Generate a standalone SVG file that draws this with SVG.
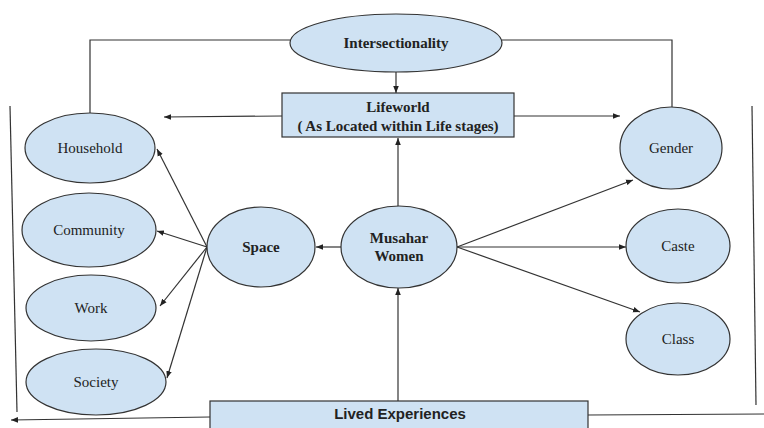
<svg xmlns="http://www.w3.org/2000/svg" width="764" height="428" viewBox="0 0 764 428">
<defs>
<marker id="ah" viewBox="0 0 10 10" refX="10" refY="5" markerWidth="7" markerHeight="7" markerUnits="userSpaceOnUse" orient="auto">
<path d="M0,1 L10,5 L0,9 Z" fill="#222"/>
</marker>
<style>
.n{fill:#cfe2f3;stroke:#333;stroke-width:1.2}
.c{fill:none;stroke:#333;stroke-width:1.2}
.a{fill:none;stroke:#333;stroke-width:1.2;marker-end:url(#ah)}
.t{font-family:"Liberation Serif","Times New Roman",serif;font-size:15px;fill:#222;text-anchor:middle}
.b{font-weight:bold}
.s{font-family:"Liberation Sans",Arial,sans-serif;font-size:15px;font-weight:bold;fill:#222;text-anchor:middle}
</style>
</defs>
<rect width="764" height="428" fill="#fff"/>
<g id="connectors">
<polyline class="c" points="290,40 90,40 90,114"/>
<polyline class="c" points="502,40 672,40 672,107"/>
<line class="a" x1="396" y1="72" x2="396" y2="93"/>
<line class="a" x1="282" y1="116" x2="164" y2="117"/>
<line class="a" x1="514" y1="116" x2="620" y2="116"/>
<line class="a" x1="398" y1="207" x2="398" y2="138"/>
<line class="a" x1="398" y1="401" x2="398" y2="288"/>
<line class="a" x1="341" y1="247" x2="316" y2="247"/>
<line class="a" x1="207" y1="247" x2="157" y2="149"/>
<line class="a" x1="207" y1="247" x2="157" y2="231"/>
<line class="a" x1="207" y1="247" x2="160" y2="306"/>
<line class="a" x1="207" y1="247" x2="167" y2="378"/>
<line class="a" x1="457" y1="247" x2="633" y2="180"/>
<line class="a" x1="457" y1="247" x2="626" y2="247"/>
<line class="a" x1="457" y1="247" x2="640" y2="312"/>
<line class="c" x1="10" y1="106" x2="17" y2="412"/>
<line class="c" x1="752" y1="106" x2="756" y2="405"/>
<line class="a" x1="210" y1="417" x2="11" y2="420"/>
<line class="c" x1="588" y1="415" x2="764" y2="414"/>
</g>
<g id="intersectionality">
<ellipse class="n" cx="396" cy="43" rx="106" ry="29"/>
<text class="t b" x="396" y="48">Intersectionality</text>
</g>
<g id="lifeworld">
<rect class="n" x="282" y="93" width="232" height="44"/>
<text class="t b" x="398" y="112">Lifeworld</text>
<text class="t b" x="398" y="131">( As Located within Life stages)</text>
</g>
<g id="household">
<ellipse class="n" cx="90" cy="148" rx="65" ry="35"/>
<text class="t" x="90" y="153">Household</text>
</g>
<g id="community">
<ellipse class="n" cx="89" cy="230" rx="67" ry="37"/>
<text class="t" x="89" y="235">Community</text>
</g>
<g id="work">
<ellipse class="n" cx="91" cy="308" rx="65" ry="33"/>
<text class="t" x="91" y="313">Work</text>
</g>
<g id="society">
<ellipse class="n" cx="96" cy="382" rx="70" ry="33"/>
<text class="t" x="96" y="387">Society</text>
</g>
<g id="space">
<ellipse class="n" cx="261" cy="247" rx="54" ry="40"/>
<text class="t b" x="261" y="252">Space</text>
</g>
<g id="musahar">
<ellipse class="n" cx="399" cy="247" rx="58" ry="41"/>
<text class="t b" x="399" y="243">Musahar</text>
<text class="t b" x="399" y="261">Women</text>
</g>
<g id="gender">
<ellipse class="n" cx="671" cy="148" rx="51" ry="41"/>
<text class="t" x="671" y="153">Gender</text>
</g>
<g id="caste">
<ellipse class="n" cx="678" cy="246" rx="52" ry="37"/>
<text class="t" x="678" y="251">Caste</text>
</g>
<g id="class">
<ellipse class="n" cx="678" cy="339" rx="52" ry="36"/>
<text class="t" x="678" y="344">Class</text>
</g>
<g id="lived">
<rect class="n" x="210" y="401" width="378" height="40"/>
<text class="s" x="400" y="419">Lived Experiences</text>
</g>
</svg>
